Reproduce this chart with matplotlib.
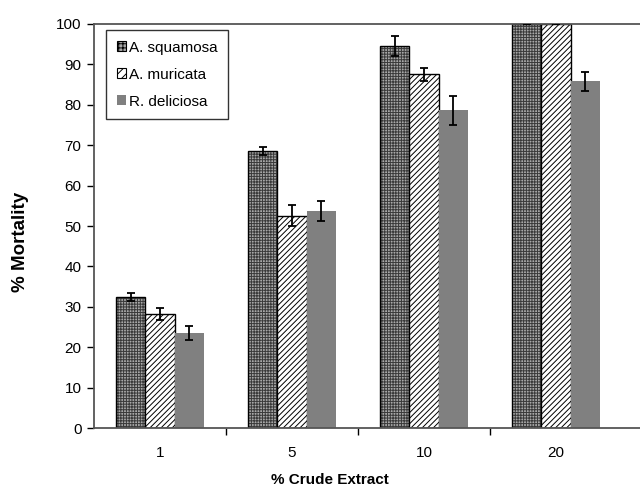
import matplotlib
matplotlib.use("Agg")
import matplotlib.pyplot as plt
import numpy as np
from matplotlib.patches import Patch

# data
concentrations = ["1", "5", "10", "20"]
species = ["A. squamosa", "A. muricata", "R. deliciosa"]
squamosa = [32.4, 68.5, 94.6, 100.0]
squamosa_err = [1.0, 1.0, 2.5, 0.0]
muricata = [28.2, 52.5, 87.5, 100.0]
muricata_err = [1.5, 2.6, 1.5, 0.0]
deliciosa = [23.5, 53.7, 78.7, 85.8]
deliciosa_err = [1.7, 2.5, 3.6, 2.4]

plt.rcParams["font.family"] = ["Liberation Sans", "DejaVu Sans"]
plt.rcParams["hatch.linewidth"] = 0.7

fig = plt.figure(figsize=(6.4, 4.9), dpi=100)
ax = fig.add_axes([94 / 640, 62 / 490, 560 / 640, 404 / 490])

x = np.arange(len(concentrations))
w = 0.22
fills = [
    dict(facecolor="#a8a8a8", edgecolor="#3a3a3a", hatch="++++++"),
    dict(facecolor="white", edgecolor="black", hatch="//////"),
    dict(facecolor="#808080", edgecolor="none"),
]
outlines = ["black", "black", "none"]
series = [(squamosa, squamosa_err), (muricata, muricata_err), (deliciosa, deliciosa_err)]

for i, ((vals, errs), st, oc) in enumerate(zip(series, fills, outlines)):
    pos = x + (i - 1) * w
    ax.bar(pos, vals, width=w, linewidth=0, zorder=2, **st)
    if oc != "none":
        ax.bar(pos, vals, width=w, fill=False, edgecolor=oc, linewidth=1.0, zorder=2)
    ax.errorbar(pos, vals, yerr=errs, fmt="none", ecolor="black",
                elinewidth=1.3, capsize=3, capthick=1.3, zorder=3)

ax.set_xlim(-0.5, -0.5 + 560 / 132)
ax.set_ylim(0, 100)
ax.set_yticks(range(0, 101, 10))
ax.set_xticks(x)
ax.set_xticklabels(concentrations)
ax.set_xticks([0.5, 1.5, 2.5], minor=True)
ax.tick_params(axis="x", which="major", length=0, pad=13, labelsize=11)
ax.tick_params(axis="x", which="minor", length=5, width=1, direction="out")
ax.tick_params(axis="y", length=5, width=1, direction="out", labelsize=11, pad=4)

for side in ["left", "bottom", "top"]:
    ax.spines[side].set_color("#555555")
    ax.spines[side].set_linewidth(1.3)
ax.spines["right"].set_visible(False)

fig.text(21 / 640, 1 - 242 / 490, "% Mortality", rotation=90, ha="center", va="center",
         fontsize=13.5, fontweight="bold")
fig.text(330 / 640, 1 - 480 / 490, "% Crude Extract", ha="center", va="center",
         fontsize=11, fontweight="bold")

# legend handles with outline like the bars
handles = [
    Patch(facecolor="#a8a8a8", edgecolor="black", hatch="++++", linewidth=0.8),
    Patch(facecolor="white", edgecolor="black", hatch="////", linewidth=0.8),
    Patch(facecolor="#808080", edgecolor="none"),
]
leg = ax.legend(handles, species, loc="upper left", bbox_to_anchor=(12 / 560, 1 - 6 / 404),
                fontsize=11, frameon=True, fancybox=False, handlelength=0.6, handleheight=0.6,
                handletextpad=0.2, borderpad=0.7, labelspacing=0.85, borderaxespad=0)
leg.get_frame().set_edgecolor("black")
leg.get_frame().set_linewidth(1.0)

fig.savefig("out.png", dpi=100)
